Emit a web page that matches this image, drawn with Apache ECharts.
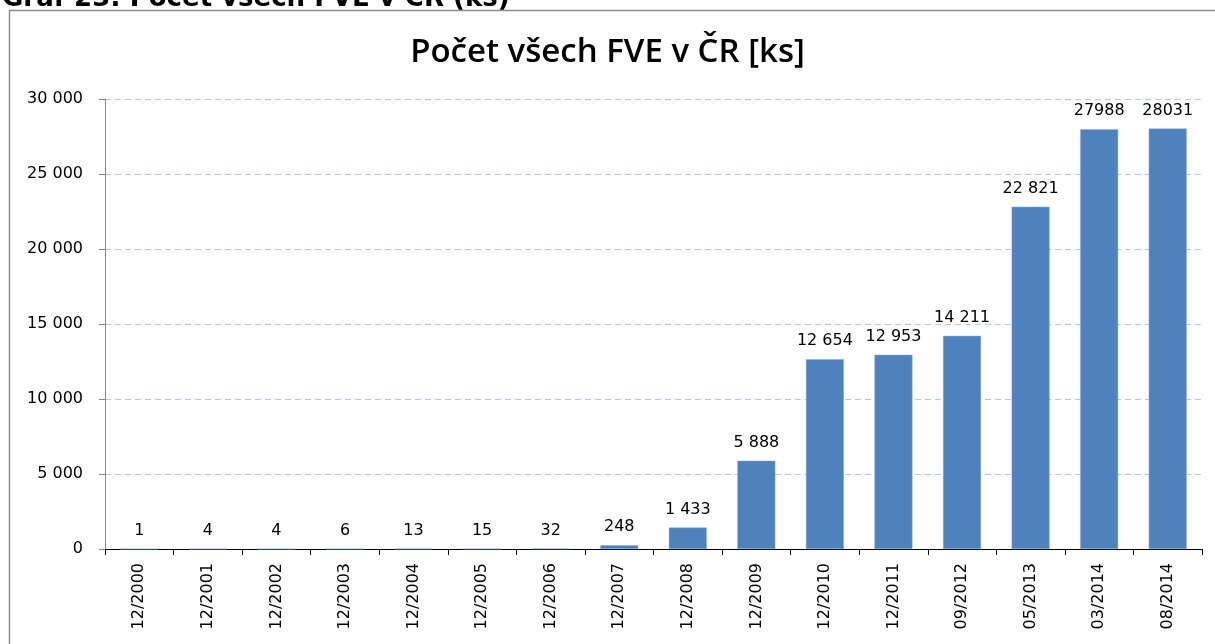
<!DOCTYPE html>
<html>
<head>
<meta charset="utf-8">
<script src="https://cdn.jsdelivr.net/npm/echarts@6/dist/echarts.min.js"></script>
<style>
  html, body { margin: 0; padding: 0; background: #fff; }
  #chart { width: 1215px; height: 644px; }
</style>
</head>
<body>
<div id="chart"></div>
<script>
var categories = ['12/2000', '12/2001', '12/2002', '12/2003', '12/2004', '12/2005', '12/2006', '12/2007',
  '12/2008', '12/2009', '12/2010', '12/2011', '09/2012', '05/2013', '03/2014', '08/2014'];
var counts = [1, 4, 4, 6, 13, 15, 32, 248, 1433, 5888, 12654, 12953, 14211, 22821, 27988, 28031];
// labels as printed in the source (last two have no thousands space)
var countLabels = ['1', '4', '4', '6', '13', '15', '32', '248', '1 433', '5 888', '12 654', '12 953',
  '14 211', '22 821', '27988', '28031'];
var yTicks = [0, 5000, 10000, 15000, 20000, 25000, 30000];

var chartDom = document.getElementById('chart');
var myChart = echarts.init(chartDom);

var option = {
  animation: false,
  backgroundColor: '#fff',
  title: {
    text: 'Počet všech FVE v ČR [ks]',
    left: 'center',
    top: 31,
    textStyle: {
      fontFamily: 'Open Sans',
      fontSize: 33,
      fontWeight: 600,
      color: '#000'
    }
  },
  graphic: [
    {
      type: 'rect',
      shape: { x: 9.5, y: 10.5, width: 1220, height: 650 },
      style: { fill: 'none', stroke: '#8c8c8c', lineWidth: 1.5 },
      silent: true
    },
    {
      type: 'text',
      left: 2,
      top: -14,
      style: {
        text: 'Graf 23: Počet všech FVE v ČR (ks)',
        fontFamily: 'DejaVu Sans',
        fontSize: 26,
        fontWeight: 'bold',
        fill: '#000'
      }
    }
  ],
  grid: {
    left: 105,
    right: 13,
    top: 99,
    bottom: 95
  },
  xAxis: {
    type: 'category',
    data: categories,
    boundaryGap: true,
    axisLine: { lineStyle: { color: '#000', width: 1 } },
    axisTick: { show: true, length: 6, lineStyle: { color: '#000' } },
    axisLabel: {
      rotate: 90,
      margin: 14,
      fontFamily: 'DejaVu Sans',
      fontSize: 16,
      color: '#000',
      interval: 0
    }
  },
  yAxis: {
    type: 'value',
    min: 0,
    max: 30000,
    interval: 5000,
    axisLine: { show: true, lineStyle: { color: '#868686' } },
    axisTick: { show: true, length: 6, lineStyle: { color: '#868686' } },
    axisLabel: {
      margin: 22,
      fontFamily: 'DejaVu Sans',
      fontSize: 16,
      color: '#000',
      formatter: function (v) {
        return yTicks.indexOf(v) >= 0 ? String(v).replace(/\B(?=(\d{3})+(?!\d))/g, ' ') : '';
      }
    },
    splitLine: {
      show: true,
      lineStyle: { color: '#b6c8e6', type: [6, 4], width: 1 }
    }
  },
  series: [
    {
      type: 'bar',
      data: counts,
      barWidth: 38,
      itemStyle: { color: '#4f81bd', borderColor: '#8fb0d8', borderWidth: 0.5 },
      label: {
        show: true,
        position: 'top',
        distance: 10,
        fontFamily: 'DejaVu Sans',
        fontSize: 16,
        color: '#000',
        formatter: function (p) { return countLabels[p.dataIndex]; }
      }
    }
  ]
};

myChart.setOption(option);

window.onresize = () => {
  myChart.resize();
}
</script>
</body>
</html>
